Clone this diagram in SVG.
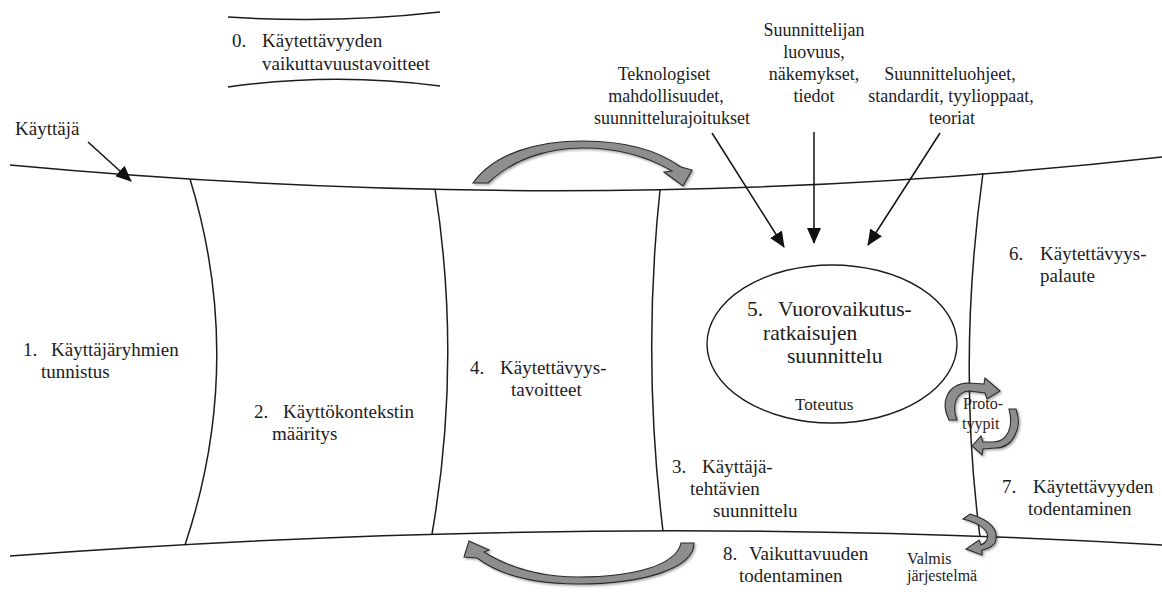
<svg xmlns="http://www.w3.org/2000/svg" width="1162" height="601" viewBox="0 0 1162 601">
  <defs>
    <style>
      text{font-family:'Liberation Serif','DejaVu Serif',serif}
      .lbl{font-size:19px;fill:#1c1c1c}
      .src{font-size:18px;text-anchor:middle}
      .big{font-size:21.5px}
      .mid{font-size:17px}
      .sm{font-size:16px}
      .proto{font-size:16px;fill:#2e2222}
      .band{fill:none;stroke:#1c1c1c;stroke-width:1.5}
      .conn{fill:none;stroke:#111;stroke-width:1.5}
      .blk{fill:#8e8e8e;stroke:#2a2a2a;stroke-width:1.1;filter:url(#sh)}
    </style>
    <marker id="ah" viewBox="0 0 16 14" refX="15" refY="7" markerWidth="16" markerHeight="14" markerUnits="userSpaceOnUse" orient="auto">
      <path d="M0,0 L16,7 L0,14 Z" fill="#111"/>
    </marker>
    <filter id="sh" x="-20%" y="-20%" width="140%" height="140%">
      <feDropShadow dx="1.5" dy="1.5" stdDeviation="1.2" flood-color="#000" flood-opacity="0.35"/>
    </filter>
  </defs>
  <rect width="1162" height="601" fill="#fff"/>

  <!-- frame of the process: two long bands and the phase dividers -->
  <g id="frame">
    <path class="band" d="M10,165 Q600,220 1162,157"/>
    <path class="band" d="M10,556 Q600,512 1162,545"/>
    <path class="band" d="M190,179 Q246,362 185,545"/>
    <path class="band" d="M435,189 Q462,361 432,534"/>
    <path class="band" d="M660,190 Q642,360 663,531"/>
    <path class="band" d="M983,173 Q957,360 980,537"/>
  </g>

  <!-- phase 0 -->
  <g id="n0">
    <path class="band" d="M228,17 Q334,24 440,12"/>
    <path class="band" d="M228,87 Q334,72 440,86"/>
    <text class="lbl" x="232" y="47">0.</text>
    <text class="lbl" x="262" y="47">Käytettävyyden</text>
    <text class="lbl" x="262" y="70">vaikuttavuustavoitteet</text>
  </g>

  <g id="user"><text class="lbl" x="15" y="135">Käyttäjä</text></g>

  <g id="n1">
    <text class="lbl" x="23" y="356">1.</text>
    <text class="lbl" x="51" y="356">Käyttäjäryhmien</text>
    <text class="lbl" x="41" y="378">tunnistus</text>
  </g>
  <g id="n2">
    <text class="lbl" x="254" y="418">2.</text>
    <text class="lbl" x="283" y="418">Käyttökontekstin</text>
    <text class="lbl" x="272" y="440">määritys</text>
  </g>
  <g id="n4">
    <text class="lbl" x="470" y="374">4.</text>
    <text class="lbl" x="500" y="374">Käytettävyys-</text>
    <text class="lbl" x="511" y="396">tavoitteet</text>
  </g>
  <g id="n3">
    <text class="lbl" x="672" y="473">3.</text>
    <text class="lbl" x="702" y="473">Käyttäjä-</text>
    <text class="lbl" x="690" y="495">tehtävien</text>
    <text class="lbl" x="713" y="517">suunnittelu</text>
  </g>
  <g id="n8">
    <text class="lbl" x="723" y="560">8.</text>
    <text class="lbl" x="749" y="560">Vaikuttavuuden</text>
    <text class="lbl" x="739" y="582">todentaminen</text>
  </g>
  <g id="n6">
    <text class="lbl" x="1009" y="260">6.</text>
    <text class="lbl" x="1040" y="260">Käytettävyys-</text>
    <text class="lbl" x="1040" y="282">palaute</text>
  </g>
  <g id="n7">
    <text class="lbl" x="1002" y="493">7.</text>
    <text class="lbl" x="1033" y="493">Käytettävyyden</text>
    <text class="lbl" x="1028" y="515">todentaminen</text>
  </g>

  <g id="n5">
    <ellipse cx="832" cy="344" rx="125" ry="79" fill="none" stroke="#1c1c1c" stroke-width="1.4"/>
    <text class="lbl big" x="747" y="316">5.</text>
    <text class="lbl big" x="778" y="316">Vuorovaikutus-</text>
    <text class="lbl big" x="763" y="340">ratkaisujen</text>
    <text class="lbl big" x="787" y="363">suunnittelu</text>
    <text class="lbl mid" x="795" y="410">Toteutus</text>
  </g>

  <g id="src-tech">
    <text class="lbl src" x="664" y="80">Teknologiset</text>
    <text class="lbl src" x="666" y="102">mahdollisuudet,</text>
    <text class="lbl src" x="672" y="124">suunnittelurajoitukset</text>
  </g>
  <g id="src-designer">
    <text class="lbl src" x="814" y="36">Suunnittelijan</text>
    <text class="lbl src" x="814" y="58">luovuus,</text>
    <text class="lbl src" x="814" y="80">näkemykset,</text>
    <text class="lbl src" x="814" y="102">tiedot</text>
  </g>
  <g id="src-guides">
    <text class="lbl src" x="950" y="80">Suunnitteluohjeet,</text>
    <text class="lbl src" x="951" y="102">standardit, tyylioppaat,</text>
    <text class="lbl src" x="952" y="124">teoriat</text>
  </g>

  <g id="proto">
    <text class="lbl proto" x="963" y="409">Proto-</text>
    <text class="lbl proto" x="962" y="429">tyypit</text>
  </g>
  <g id="release">
    <text class="lbl sm" x="907" y="564">Valmis</text>
    <text class="lbl sm" x="907" y="581">järjestelmä</text>
  </g>

  <!-- connectors -->
  <g id="connectors">
    <line class="conn" x1="88" y1="142" x2="131" y2="181" marker-end="url(#ah)"/>
    <line class="conn" x1="712" y1="133" x2="784" y2="247" marker-end="url(#ah)"/>
    <line class="conn" x1="814" y1="132" x2="814" y2="243" marker-end="url(#ah)"/>
    <line class="conn" x1="940" y1="133" x2="868" y2="245" marker-end="url(#ah)"/>

    <!-- iteration arrows -->
    <path class="blk" d="M473,183 C495,152 540,141 583,141 C627,141 660,152 681,167 L692,170 L683,186 L664,172 L672,171 C650,158 620,148 583,148 C546,148 512,160 488,183 Z"/>
    <path class="blk" d="M681,543 L694,543 C694,568 645,584 578,584 C530,584 497,573 477,558 L464,557 L469,541 L489,550 L484,552 C505,565 535,577 578,577 C635,577 676,565 681,543 Z"/>
    <path class="blk" d="M957,420 L949,420 C940,402 947,384 968,383 L984,384 L985,378 L1000,391 L987,399 L985,393 L969,391 C957,392 951,404 957,420 Z"/>
    <path class="blk" d="M1009,409 L1016,409 C1023,428 1013,448 995,448 L983,449 L982,455 L972,446 L981,436 L983,442 L994,442 C1007,441 1014,428 1009,409 Z"/>
    <path class="blk" d="M963,519 L970,514 C990,520 1000,530 995,543 C992,547 988,549 982,550 L982,555 L966,549 L979,540 L981,545 C986,543 989,538 987,533 C984,527 975,522 963,519 Z"/>
  </g>
</svg>
